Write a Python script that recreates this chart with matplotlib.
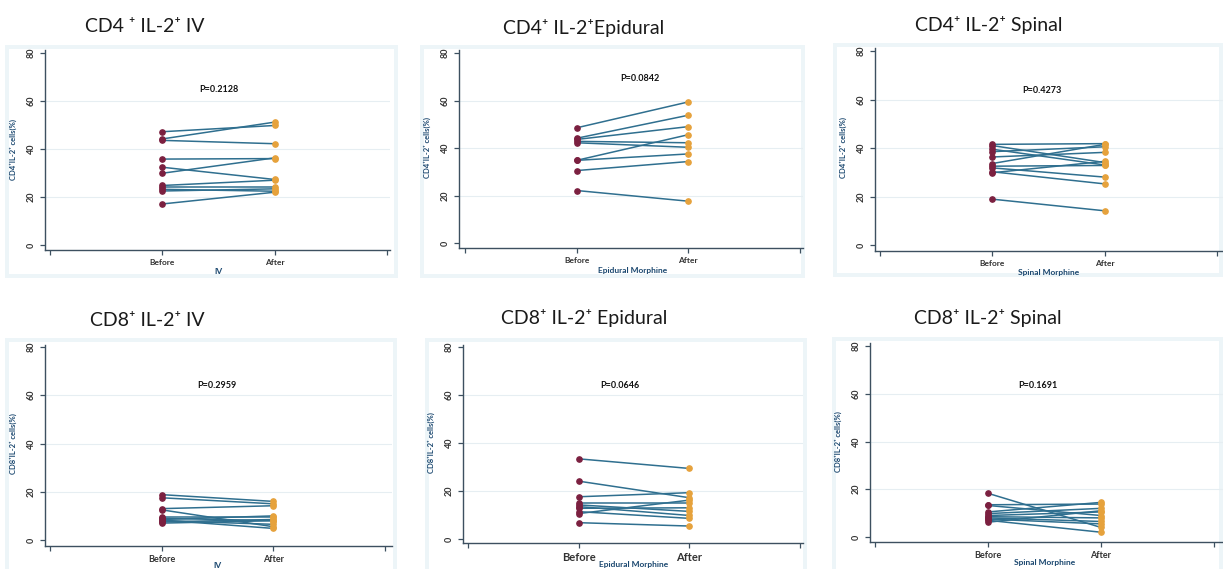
"""Paired before/after IL-2+ T-cell percentages, six Stata-style panels."""
import matplotlib
matplotlib.use("Agg")
import matplotlib.pyplot as plt  # noqa: E402
from matplotlib.patches import Rectangle  # noqa: E402

W, H = 1223, 569

titles = ["CD4 ⁺ IL-2⁺ IV", "CD4⁺ IL-2⁺Epidural", "CD4⁺ IL-2⁺ Spinal",
          "CD8⁺ IL-2⁺ IV", "CD8⁺ IL-2⁺ Epidural", "CD8⁺ IL-2⁺ Spinal"]
p_labels = ["P=0.2128", "P=0.0842", "P=0.4273",
            "P=0.2959", "P=0.0646", "P=0.1691"]
x_titles = ["IV", "Epidural Morphine", "Spinal Morphine",
            "IV", "Epidural Morphine", "Spinal Morphine"]
y_titles = ["CD4⁺IL-2⁺ cells(%)"] * 3 + ["CD8⁺IL-2⁺ cells(%)"] * 3
x_cats = ["Before", "After"]
y_ticks = [0, 20, 40, 60, 80]

# values, one pair per patient
cd4_iv_before = [47.2, 44.2, 43.6, 35.8, 32.4, 29.9, 24.8, 24.0, 23.2, 22.5, 17.1]
cd4_iv_after = [49.8, 51.2, 42.2, 36.0, 27.3, 36.3, 27.0, 24.0, 22.4, 23.4, 22.0]
cd4_epi_before = [48.5, 44.1, 43.6, 42.8, 42.2, 34.8, 34.8, 30.5, 22.1]
cd4_epi_after = [59.4, 53.8, 49.0, 42.2, 40.3, 45.6, 37.5, 34.3, 17.6]
cd4_spi_before = [41.5, 41.0, 39.5, 38.5, 36.3, 33.6, 32.5, 31.8, 30.2, 29.8, 18.9]
cd4_spi_after = [41.8, 34.0, 33.0, 40.5, 38.2, 41.5, 32.8, 28.0, 25.2, 34.5, 14.1]
cd8_iv_before = [18.8, 17.5, 13.0, 12.5, 9.5, 9.0, 8.5, 8.0, 7.5, 7.0, 8.3]
cd8_iv_after = [16.0, 15.0, 14.2, 5.5, 9.5, 8.0, 10.0, 6.5, 8.5, 8.0, 4.8]
cd8_epi_before = [33.4, 24.1, 17.6, 15.0, 14.2, 13.5, 12.8, 11.4, 10.6, 6.8]
cd8_epi_after = [29.4, 17.2, 19.3, 15.0, 11.5, 9.8, 13.0, 8.6, 16.2, 5.4]
cd8_spi_before = [18.3, 13.5, 13.2, 10.5, 9.8, 9.0, 8.5, 8.0, 7.5, 7.0, 6.2]
cd8_spi_after = [4.0, 13.8, 9.0, 14.5, 12.0, 10.5, 8.0, 6.5, 5.5, 2.0, 11.0]

pairs = [(cd4_iv_before, cd4_iv_after), (cd4_epi_before, cd4_epi_after),
         (cd4_spi_before, cd4_spi_after), (cd8_iv_before, cd8_iv_after),
         (cd8_epi_before, cd8_epi_after), (cd8_spi_before, cd8_spi_after)]

# pixel layout: graph region box, axis spine box, tick 0/3 px, y 0/80 px,
# title centre, P position (data), tick label size, x-title px y
layout = [
    dict(region=(5, 45, 398, 278), spine=(45, 50, 390, 250), xt=(50, 387), yt=(245, 53),
         title=(145, 27), p=(1.5, 64.6), tsize=6, xtitle_y=272),
    dict(region=(420, 45, 805, 278), spine=(459, 50, 803, 248), xt=(465, 800), yt=(243, 53),
         title=(584, 28), p=(1.57, 69.2), tsize=6, xtitle_y=271),
    dict(region=(833, 43, 1223, 277), spine=(875, 48, 1223, 251), xt=(880, 1217), yt=(245, 51),
         title=(989, 25), p=(1.44, 63.8), tsize=6, xtitle_y=273),
    dict(region=(5, 338, 397, 575), spine=(45, 345, 392, 546), xt=(50, 385), yt=(540, 347),
         title=(147, 320), p=(1.49, 64.1), tsize=6.5, xtitle_y=565),
    dict(region=(425, 338, 807, 575), spine=(463, 345, 803, 543), xt=(468, 800), yt=(539, 347),
         title=(584, 318), p=(1.37, 64.1), tsize=8, xtitle_y=565),
    dict(region=(832, 337, 1223, 575), spine=(870, 343, 1223, 542), xt=(875, 1214), yt=(537, 346),
         title=(988, 318), p=(1.44, 63.5), tsize=6.5, xtitle_y=562),
]

LINE = "#2f6f8f"
BEFORE = "#7b2040"
AFTER = "#e6a23c"
AXIS = "#3d5060"
TEAL = "#1a476f"
REGION = "#edf5f8"
FONT = ["Lato", "DejaVu Sans"]


def fx(px):
    return px / W


def fy(py):
    return 1 - py / H


fig = plt.figure(figsize=(W / 100, H / 100), dpi=100)
fig.patch.set_facecolor("white")

for i, lay in enumerate(layout):
    before, after = pairs[i]
    r0, r1, r2, r3 = lay["region"]
    fig.patches.append(Rectangle((fx(r0), fy(r3)), fx(r2 - r0), (r3 - r1) / H,
                                 transform=fig.transFigure, facecolor=REGION,
                                 edgecolor="none", zorder=-2))
    fig.patches.append(Rectangle((fx(r0 + 4), fy(r3 - 4)), fx(r2 - r0 - 8), (r3 - r1 - 8) / H,
                                 transform=fig.transFigure, facecolor="white",
                                 edgecolor="none", zorder=-1))

    s0, s1, s2, s3 = lay["spine"]
    ax = fig.add_axes([fx(s0), fy(s3), fx(s2 - s0), (s3 - s1) / H])
    ax.patch.set_alpha(0)
    ux = (lay["xt"][1] - lay["xt"][0]) / 3
    uy = (lay["yt"][0] - lay["yt"][1]) / 80
    ax.set_xlim((s0 - lay["xt"][0]) / ux, (s2 - lay["xt"][0]) / ux)
    ax.set_ylim((lay["yt"][0] - s3) / uy, (lay["yt"][0] - s1) / uy)

    for y in (20, 40, 60):
        ax.axhline(y, color="#e6eef2", lw=0.8, zorder=0)

    for b, a in zip(before, after):
        ax.plot([1, 2], [b, a], color=LINE, lw=1.1, zorder=2)
    ax.plot([1] * len(before), before, "o", color=BEFORE, ms=3.8, zorder=3)
    ax.plot([2] * len(after), after, "o", color=AFTER, ms=3.8, zorder=3)

    for side in ("top", "right"):
        ax.spines[side].set_visible(False)
    for side in ("left", "bottom"):
        ax.spines[side].set_color(AXIS)
        ax.spines[side].set_linewidth(1.0)

    ax.set_yticks(y_ticks)
    ax.set_yticklabels([str(t) for t in y_ticks], rotation=90, va="center",
                       fontsize=6.5, fontweight="bold", family=FONT)
    ax.set_xticks([0, 1, 2, 3])
    ax.set_xticklabels(["", x_cats[0], x_cats[1], ""], fontsize=lay["tsize"],
                       fontweight="bold", family=FONT)
    ax.tick_params(axis="both", colors=AXIS, length=3.5, width=0.9, pad=3,
                   labelcolor="#333333")

    ax.text(lay["p"][0], lay["p"][1], p_labels[i], ha="center", va="center",
            fontsize=6.5, fontweight="bold", family=FONT, color="#111111")

    # axis titles in Stata teal
    fig.text(fx(s0 - 32), fy((lay["yt"][0] + lay["yt"][1]) / 2), y_titles[i],
             rotation=90, ha="center", va="center", fontsize=5.5, fontweight="bold",
             family=FONT, color=TEAL)
    x_mid = lay["xt"][0] + 1.5 * ux
    fig.text(fx(x_mid), fy(lay["xtitle_y"]), x_titles[i], ha="center", va="center",
             fontsize=6, fontweight="bold", family=FONT, color=TEAL)

    fig.text(fx(lay["title"][0]), fy(lay["title"][1]), titles[i], ha="center",
             va="center", fontsize=14, family=FONT, color="#1a1a1a")

fig.savefig("out.png", dpi=100)
